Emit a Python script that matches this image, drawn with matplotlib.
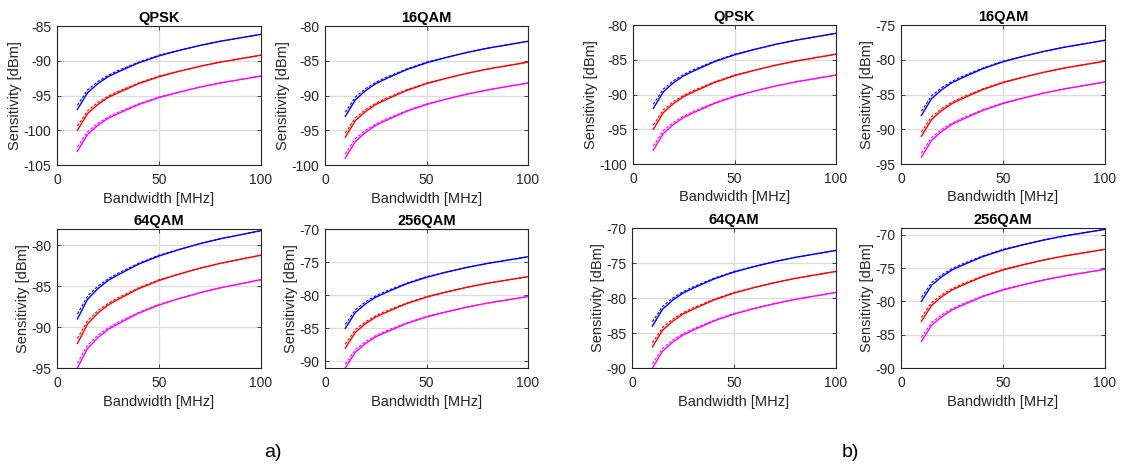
import matplotlib.pyplot as plt

plt.rcParams["font.family"] = ["Liberation Sans", "DejaVu Sans"]
plt.rcParams["axes.unicode_minus"] = False

# bandwidth points [MHz]
bandwidth = [10, 15, 20, 25, 30, 40, 50, 60, 70, 80, 90, 100]

panel_titles = ["QPSK", "16QAM", "64QAM", "256QAM"]
colors = ["#0000ff", "#ff0000", "#ff00ff"]

# solid curves: blue, red, magenta per panel
solid_a_qpsk = [
    [-97.0, -94.6, -93.3, -92.3, -91.6, -90.3, -89.3, -88.5, -87.8, -87.2, -86.7, -86.2],
    [-100.0, -97.6, -96.3, -95.3, -94.6, -93.3, -92.3, -91.5, -90.8, -90.2, -89.7, -89.2],
    [-103.0, -100.6, -99.3, -98.3, -97.6, -96.3, -95.3, -94.5, -93.8, -93.2, -92.7, -92.2],
]
dashed_a_qpsk = [
    [-96.4, -94.2, -93.0, -92.1, -91.4, -90.2, -89.2, -88.5, -87.8, -87.2, -86.7, -86.2],
    [-99.4, -97.2, -96.0, -95.1, -94.4, -93.2, -92.2, -91.5, -90.8, -90.2, -89.7, -89.2],
    [-102.4, -100.2, -99.0, -98.1, -97.4, -96.2, -95.2, -94.5, -93.8, -93.2, -92.7, -92.2],
]
solid_a_16qam = [
    [-93.0, -90.6, -89.3, -88.3, -87.6, -86.3, -85.3, -84.5, -83.8, -83.2, -82.7, -82.2],
    [-96.0, -93.6, -92.3, -91.3, -90.6, -89.3, -88.3, -87.5, -86.8, -86.2, -85.7, -85.2],
    [-99.0, -96.6, -95.3, -94.3, -93.6, -92.3, -91.3, -90.5, -89.8, -89.2, -88.7, -88.2],
]
dashed_a_16qam = [
    [-92.4, -90.2, -89.0, -88.1, -87.4, -86.2, -85.2, -84.5, -83.8, -83.2, -82.7, -82.2],
    [-95.4, -93.2, -92.0, -91.1, -90.4, -89.2, -88.2, -87.5, -86.8, -86.2, -85.7, -85.2],
    [-98.4, -96.2, -95.0, -94.1, -93.4, -92.2, -91.2, -90.5, -89.8, -89.2, -88.7, -88.2],
]
solid_a_64qam = [
    [-89.0, -86.6, -85.3, -84.3, -83.6, -82.3, -81.3, -80.5, -79.8, -79.2, -78.7, -78.2],
    [-92.0, -89.6, -88.3, -87.3, -86.6, -85.3, -84.3, -83.5, -82.8, -82.2, -81.7, -81.2],
    [-95.0, -92.6, -91.3, -90.3, -89.6, -88.3, -87.3, -86.5, -85.8, -85.2, -84.7, -84.2],
]
dashed_a_64qam = [
    [-88.4, -86.2, -85.0, -84.1, -83.4, -82.2, -81.2, -80.5, -79.8, -79.2, -78.7, -78.2],
    [-91.4, -89.2, -88.0, -87.1, -86.4, -85.2, -84.2, -83.5, -82.8, -82.2, -81.7, -81.2],
    [-94.4, -92.2, -91.0, -90.1, -89.4, -88.2, -87.2, -86.5, -85.8, -85.2, -84.7, -84.2],
]
solid_a_256qam = [
    [-85.0, -82.6, -81.3, -80.3, -79.6, -78.3, -77.3, -76.5, -75.8, -75.2, -74.7, -74.2],
    [-88.0, -85.6, -84.3, -83.3, -82.6, -81.3, -80.3, -79.5, -78.8, -78.2, -77.7, -77.2],
    [-91.0, -88.6, -87.3, -86.3, -85.6, -84.3, -83.3, -82.5, -81.8, -81.2, -80.7, -80.2],
]
dashed_a_256qam = [
    [-84.4, -82.2, -81.0, -80.1, -79.4, -78.2, -77.2, -76.5, -75.8, -75.2, -74.7, -74.2],
    [-87.4, -85.2, -84.0, -83.1, -82.4, -81.2, -80.2, -79.5, -78.8, -78.2, -77.7, -77.2],
    [-90.4, -88.2, -87.0, -86.1, -85.4, -84.2, -83.2, -82.5, -81.8, -81.2, -80.7, -80.2],
]
solid_b_qpsk = [
    [-92.0, -89.6, -88.3, -87.3, -86.6, -85.3, -84.3, -83.5, -82.8, -82.2, -81.7, -81.2],
    [-95.0, -92.6, -91.3, -90.3, -89.6, -88.3, -87.3, -86.5, -85.8, -85.2, -84.7, -84.2],
    [-98.0, -95.6, -94.3, -93.3, -92.6, -91.3, -90.3, -89.5, -88.8, -88.2, -87.7, -87.2],
]
dashed_b_qpsk = [
    [-91.4, -89.2, -88.0, -87.1, -86.4, -85.2, -84.2, -83.5, -82.8, -82.2, -81.7, -81.2],
    [-94.4, -92.2, -91.0, -90.1, -89.4, -88.2, -87.2, -86.5, -85.8, -85.2, -84.7, -84.2],
    [-97.4, -95.2, -94.0, -93.1, -92.4, -91.2, -90.2, -89.5, -88.8, -88.2, -87.7, -87.2],
]
solid_b_16qam = [
    [-88.0, -85.6, -84.3, -83.3, -82.6, -81.3, -80.3, -79.5, -78.8, -78.2, -77.7, -77.2],
    [-91.0, -88.6, -87.3, -86.3, -85.6, -84.3, -83.3, -82.5, -81.8, -81.2, -80.7, -80.2],
    [-94.0, -91.6, -90.3, -89.3, -88.6, -87.3, -86.3, -85.5, -84.8, -84.2, -83.7, -83.2],
]
dashed_b_16qam = [
    [-87.4, -85.2, -84.0, -83.1, -82.4, -81.2, -80.2, -79.5, -78.8, -78.2, -77.7, -77.2],
    [-90.4, -88.2, -87.0, -86.1, -85.4, -84.2, -83.2, -82.5, -81.8, -81.2, -80.7, -80.2],
    [-93.4, -91.2, -90.0, -89.1, -88.4, -87.2, -86.2, -85.5, -84.8, -84.2, -83.7, -83.2],
]
solid_b_64qam = [
    [-84.0, -81.6, -80.3, -79.3, -78.6, -77.3, -76.3, -75.5, -74.8, -74.2, -73.7, -73.2],
    [-87.0, -84.6, -83.3, -82.3, -81.6, -80.3, -79.3, -78.5, -77.8, -77.2, -76.7, -76.2],
    [-90.0, -87.6, -86.3, -85.3, -84.6, -83.3, -82.3, -81.5, -80.8, -80.2, -79.7, -79.2],
]
dashed_b_64qam = [
    [-83.4, -81.2, -80.0, -79.1, -78.4, -77.2, -76.2, -75.5, -74.8, -74.2, -73.7, -73.2],
    [-86.4, -84.2, -83.0, -82.1, -81.4, -80.2, -79.2, -78.5, -77.8, -77.2, -76.7, -76.2],
    [-89.4, -87.2, -86.0, -85.1, -84.4, -83.2, -82.2, -81.5, -80.8, -80.2, -79.7, -79.2],
]
solid_b_256qam = [
    [-80.0, -77.6, -76.3, -75.3, -74.6, -73.3, -72.3, -71.5, -70.8, -70.2, -69.7, -69.2],
    [-83.0, -80.6, -79.3, -78.3, -77.6, -76.3, -75.3, -74.5, -73.8, -73.2, -72.7, -72.2],
    [-86.0, -83.6, -82.3, -81.3, -80.6, -79.3, -78.3, -77.5, -76.8, -76.2, -75.7, -75.2],
]
dashed_b_256qam = [
    [-79.4, -77.2, -76.0, -75.1, -74.4, -73.2, -72.2, -71.5, -70.8, -70.2, -69.7, -69.2],
    [-82.4, -80.2, -79.0, -78.1, -77.4, -76.2, -75.2, -74.5, -73.8, -73.2, -72.7, -72.2],
    [-85.4, -83.2, -82.0, -81.1, -80.4, -79.2, -78.2, -77.5, -76.8, -76.2, -75.7, -75.2],
]

ylims_a = [(-105, -85), (-100, -80), (-95, -78), (-91, -70)]
ylims_b = [(-100, -80), (-95, -75), (-90, -70), (-90, -69)]

W, H = 1121, 469
# axes boxes in pixels: left, top, right, bottom
boxes_a = [(57, 26, 261, 165), (325, 26, 528, 165), (57, 229, 261, 368), (325, 229, 528, 368)]
boxes_b = [(633, 25, 836, 164), (901, 25, 1105, 164), (632, 228, 836, 368), (901, 228, 1105, 368)]

groups = [
    (boxes_a, ylims_a,
     [solid_a_qpsk, solid_a_16qam, solid_a_64qam, solid_a_256qam],
     [dashed_a_qpsk, dashed_a_16qam, dashed_a_64qam, dashed_a_256qam]),
    (boxes_b, ylims_b,
     [solid_b_qpsk, solid_b_16qam, solid_b_64qam, solid_b_256qam],
     [dashed_b_qpsk, dashed_b_16qam, dashed_b_64qam, dashed_b_256qam]),
]

fig = plt.figure(figsize=(W / 100, H / 100), dpi=100)
dark = "#262626"

for boxes, ylims, solids, dashes in groups:
    for i in range(4):
        l, t, r, b = boxes[i]
        ax = fig.add_axes([l / W, 1 - b / H, (r - l) / W, (b - t) / H])
        for k in range(3):
            ax.plot(bandwidth, dashes[i][k], color=colors[k], lw=0.8, ls=(0, (2.5, 1.5)))
            ax.plot(bandwidth, solids[i][k], color=colors[k], lw=1.0)
        ax.set_xlim(0, 100)
        ax.set_ylim(*ylims[i])
        ax.set_xticks([0, 50, 100])
        lo, hi = ylims[i]
        start = int(-(-lo // 5) * 5)
        ax.set_yticks(list(range(start, int(hi) + 1, 5)))
        ax.grid(True, color="#dcdcdc", lw=0.9)
        ax.set_axisbelow(True)
        ax.tick_params(direction="in", length=3, width=0.6, colors=dark, labelsize=10,
                       top=True, right=True)
        ax.tick_params(axis="x", pad=6)
        ax.tick_params(axis="y", pad=4)
        for sp in ax.spines.values():
            sp.set_color(dark)
            sp.set_linewidth(0.8)
        ax.set_title(panel_titles[i], fontsize=10.5, fontweight="bold", pad=3)
        ax.set_xlabel("Bandwidth [MHz]", fontsize=10.5, color=dark, labelpad=3)
        ax.set_ylabel("Sensitivity [dBm]", fontsize=10.5, color=dark, labelpad=1)

fig.text(273 / W, 1 - 452 / H, "a)", fontsize=14, ha="center", va="center")
fig.text(850 / W, 1 - 452 / H, "b)", fontsize=14, ha="center", va="center")

fig.savefig("out.png", dpi=100)
